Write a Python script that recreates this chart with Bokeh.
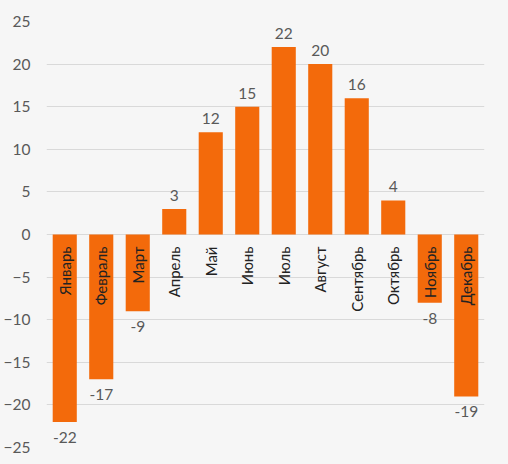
from bokeh.plotting import figure
from bokeh.models import ColumnDataSource, FixedTicker, Range1d
from bokeh.core.properties import value
from bokeh.embed import file_html
from bokeh.resources import INLINE

months = ["Январь", "Февраль", "Март", "Апрель", "Май", "Июнь",
          "Июль", "Август", "Сентябрь", "Октябрь", "Ноябрь", "Декабрь"]
temps = [-22, -17, -9, 3, 12, 15, 22, 20, 16, 4, -8, -19]
y_ticks = [-25, -20, -15, -10, -5, 0, 5, 10, 15, 20, 25]

BG = "#f6f6f6"
BAR = "#f36a0b"
FONT = "Lato"

p = figure(x_range=months, y_range=Range1d(-25, 25), width=508, height=464,
           output_backend="svg", toolbar_location=None,
           min_border_left=44, min_border_right=24, min_border_top=21, min_border_bottom=17)
p.background_fill_color = BG
p.border_fill_color = BG
p.outline_line_color = None

src = ColumnDataSource(dict(m=months, t=temps))
pos_src = ColumnDataSource(dict(m=[m for m, v in zip(months, temps) if v >= 0],
                                t=[v for v in temps if v >= 0],
                                lbl=[str(v) for v in temps if v >= 0]))
neg_src = ColumnDataSource(dict(m=[m for m, v in zip(months, temps) if v < 0],
                                t=[v for v in temps if v < 0],
                                lbl=[str(v) for v in temps if v < 0]))

p.vbar(x="m", top="t", bottom=0, width=0.66, source=src, fill_color=BAR, line_color=None)

p.text(x="m", y="t", text="lbl", source=pos_src, text_align="center", text_baseline="bottom",
       y_offset=-8, text_font=value(FONT), text_font_size="15.5px", text_color="#595959")
p.text(x="m", y="t", text="lbl", source=neg_src, text_align="center", text_baseline="top",
       y_offset=10, text_font=value(FONT), text_font_size="15.5px", text_color="#595959")

zero_src = ColumnDataSource(dict(m=months, z=[0] * len(months)))
p.text(x="m", y="z", text="m", source=zero_src, angle=1.5708, text_align="right",
       text_baseline="middle", y_offset=12, text_font=value(FONT), text_font_size="15px",
       text_color="#222222")

p.xaxis.visible = False
p.xgrid.grid_line_color = None
p.ygrid.grid_line_color = "#d9d9d9"
p.ygrid.ticker = FixedTicker(ticks=y_ticks)
p.yaxis.ticker = FixedTicker(ticks=y_ticks)
p.yaxis.axis_line_color = None
p.yaxis.major_tick_line_color = None
p.yaxis.minor_tick_line_color = None
p.yaxis.major_tick_out = 0
p.yaxis.major_tick_in = 0
p.yaxis.major_label_text_font = FONT
p.yaxis.major_label_text_font_size = "15.5px"
p.yaxis.major_label_text_color = "#595959"
p.yaxis.major_label_standoff = 16

html = file_html(p, INLINE)
html = html.replace("<head>", "<head><style>body{background:#f6f6f6;}</style>", 1)
open("out.html", "w").write(html)
